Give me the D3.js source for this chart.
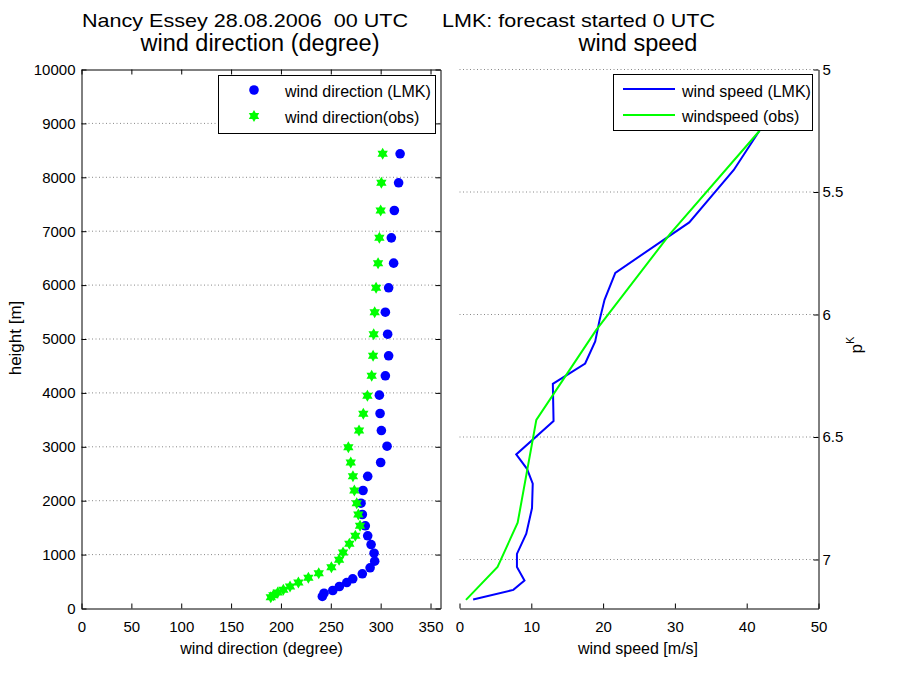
<!DOCTYPE html>
<html><head><meta charset="utf-8">
<script src="https://cdn.jsdelivr.net/npm/d3@7"></script>
<style>
body{margin:0;background:#fff}
svg text{font-family:"Liberation Sans",Arial,Helvetica,sans-serif}
</style>
</head><body>
<svg id="c" width="900" height="675"></svg>
<script>
// ---- data ----
const dirHeightLMK=[223,284,334,408,482,551,644,755,878,1026,1187,1349,1534,1744,1954,2189,2452,2709,3011,3302,3618,3958,4317,4688,5089,5497,5950,6407,6877,7384,7898,8436];
const dirLMK=[241.5,243.2,252,258.6,266,272,281.6,289.4,294,293.4,290.4,287,284.6,281.6,280.3,282.3,287,300,306.4,300.7,299.4,298.7,304.7,308,307,304.7,308,313,310.7,313.7,318,319.5];
const dirHeightObs=[210,247,297,347,408,482,569,655,767,903,1039,1200,1349,1534,1744,1954,2189,2452,2709,2993,3302,3612,3946,4317,4688,5089,5497,5950,6407,6877,7384,7898,8436];
const dirObs=[189.8,192.4,196.8,202.4,209.1,217.5,227.5,237.9,250.6,258.3,262.3,268.6,274.6,279.3,277.6,276,273.6,272.2,270,267.6,278.3,282.6,286.7,291,292.4,293,294,295.4,297.4,298.7,300,300.7,302];

const speedPkLMK=[7.163,7.124,7.086,7.031,6.977,6.895,6.79,6.69,6.63,6.571,6.435,6.283,6.2,6.11,6.024,5.94,5.83,5.624,5.41,5.24];
const speedLMK=[1.9,7.5,9.05,8.0,8.0,9.3,10.1,10.2,9.4,7.9,13.1,13.0,17.5,18.9,19.5,20.2,21.7,32.0,38.2,42.0];
const speedPkObs=[7.165,7.03,6.85,6.43,6.065,5.672,5.25];
const speedObs=[0.9,5.3,8.1,10.7,19.0,29.3,41.8];

const dirTicks=[0,50,100,150,200,250,300,350];
const heightTicks=[0,1000,2000,3000,4000,5000,6000,7000,8000,9000,10000];
const speedTicks=[0,10,20,30,40,50];
const pkTicks=[5,5.5,6,6.5,7];

const titleLeft="Nancy Essey 28.08.2006  00 UTC";
const titleRight="LMK: forecast started 0 UTC";

// ---- drawing ----
const svg=d3.select("#c");
const BLUE="#0000ff", GREEN="#00ff00";

const xDir=d3.scaleLinear().domain([0,360]).range([81.5,440.5]);
const yH=d3.scaleLinear().domain([0,10000]).range([608.5,69.5]);
const xS=d3.scaleLinear().domain([0,50]).range([459.5,818.5]);
const yP=d3.scaleLinear().domain([5,7.2]).range([69.5,608.5]);
const fmt=d=>String(d);

function styleAxis(g){
  g.attr("font-family",null).attr("font-size",15);
  g.selectAll("path,line").attr("stroke","#000");
  g.selectAll("text").attr("fill","#000");
}

// left grid
svg.append("g").selectAll("line").data(heightTicks.filter(d=>d>0&&d<10000)).join("line")
  .attr("x1",81.5).attr("x2",440.5).attr("y1",d=>yH(d)).attr("y2",d=>yH(d))
  .attr("stroke","#888").attr("stroke-dasharray","1,2.5");
// right grid
svg.append("g").selectAll("line").data(pkTicks).join("line")
  .attr("x1",459.5).attr("x2",818.5).attr("y1",d=>yP(d)).attr("y2",d=>yP(d))
  .attr("stroke","#888").attr("stroke-dasharray","1,2.5");

// left axes (box)
svg.append("g").attr("transform","translate(0,608.5)")
  .call(d3.axisBottom(xDir).tickValues(dirTicks).tickSize(-5).tickSizeOuter(0).tickPadding(13).tickFormat(fmt)).call(styleAxis);
svg.append("g").attr("transform","translate(0,69.5)")
  .call(d3.axisTop(xDir).tickValues(dirTicks).tickSize(-5).tickSizeOuter(0).tickFormat("")).call(styleAxis);
svg.append("g").attr("transform","translate(81.5,0)")
  .call(d3.axisLeft(yH).tickValues(heightTicks).tickSize(-5).tickSizeOuter(0).tickPadding(6).tickFormat(fmt)).call(styleAxis);
svg.append("g").attr("transform","translate(440.5,0)")
  .call(d3.axisRight(yH).tickValues(heightTicks).tickSize(-5).tickSizeOuter(0).tickFormat("")).call(styleAxis);

// right axes
svg.append("g").attr("transform","translate(0,608.5)")
  .call(d3.axisBottom(xS).tickValues(speedTicks).tickSize(-5).tickSizeOuter(0).tickPadding(13).tickFormat(fmt)).call(styleAxis);
svg.append("g").attr("transform","translate(818.5,0)")
  .call(d3.axisRight(yP).tickValues(pkTicks).tickSize(-5).tickSizeOuter(0).tickPadding(4).tickFormat(fmt)).call(styleAxis);

// hexagram symbol
const hexagram={draw(ctx,size){
  const R=Math.sqrt(size), r=R/Math.sqrt(3);
  for(let k=0;k<12;k++){
    const a=-Math.PI/2+k*Math.PI/6, rr=(k%2)?r:R;
    const x=rr*Math.cos(a), y=rr*Math.sin(a);
    if(k) ctx.lineTo(x,y); else ctx.moveTo(x,y);
  }
  ctx.closePath();
}};
const hexPath=d3.symbol().type(hexagram).size(36)();

// left scatter
svg.append("g").selectAll("circle").data(dirLMK).join("circle")
  .attr("cx",d=>xDir(d)).attr("cy",(d,i)=>yH(dirHeightLMK[i])).attr("r",4.8).attr("fill",BLUE);
svg.append("g").selectAll("path").data(dirObs).join("path")
  .attr("d",hexPath).attr("transform",(d,i)=>`translate(${xDir(d)},${yH(dirHeightObs[i])})`).attr("fill",GREEN);

// right lines
const line=d3.line();
svg.append("path").datum(speedLMK.map((v,i)=>[xS(v),yP(speedPkLMK[i])]))
  .attr("d",line).attr("fill","none").attr("stroke",BLUE).attr("stroke-width",2);
svg.append("path").datum(speedObs.map((v,i)=>[xS(v),yP(speedPkObs[i])]))
  .attr("d",line).attr("fill","none").attr("stroke",GREEN).attr("stroke-width",2);

// legends
const lg1=svg.append("g");
lg1.append("rect").attr("x",218.5).attr("y",75.5).attr("width",217).attr("height",58).attr("fill","#fff").attr("stroke","#000");
lg1.append("circle").attr("cx",254).attr("cy",90).attr("r",4.8).attr("fill",BLUE);
lg1.append("path").attr("d",hexPath).attr("transform","translate(254,116)").attr("fill",GREEN);
lg1.append("text").attr("x",285).attr("y",97).attr("font-size",16).text("wind direction (LMK)");
lg1.append("text").attr("x",285).attr("y",123).attr("font-size",16).text("wind direction(obs)");

const lg2=svg.append("g");
lg2.append("rect").attr("x",613.5).attr("y",74.5).attr("width",199).attr("height",56).attr("fill","#fff").attr("stroke","#000");
lg2.append("line").attr("x1",623).attr("x2",675).attr("y1",89).attr("y2",89).attr("stroke",BLUE).attr("stroke-width",2);
lg2.append("line").attr("x1",623).attr("x2",675).attr("y1",115).attr("y2",115).attr("stroke",GREEN).attr("stroke-width",2);
lg2.append("text").attr("x",682).attr("y",97).attr("font-size",16).text("wind speed (LMK)");
lg2.append("text").attr("x",682).attr("y",122).attr("font-size",16).text("windspeed (obs)");

// titles
svg.append("text").attr("x",82).attr("y",27).attr("font-size",19)
  .attr("textLength",326).attr("lengthAdjust","spacingAndGlyphs").style("white-space","pre").text(titleLeft);
svg.append("text").attr("x",442).attr("y",27).attr("font-size",19)
  .attr("textLength",273).attr("lengthAdjust","spacingAndGlyphs").text(titleRight);
svg.append("text").attr("x",260).attr("y",51).attr("font-size",23.5).attr("text-anchor","middle").text("wind direction (degree)");
svg.append("text").attr("x",638).attr("y",51).attr("font-size",23.5).attr("text-anchor","middle").text("wind speed");

// axis labels
svg.append("text").attr("x",261.5).attr("y",654).attr("font-size",16).attr("text-anchor","middle").text("wind direction (degree)");
svg.append("text").attr("x",638).attr("y",654).attr("font-size",16).attr("text-anchor","middle").text("wind speed [m/s]");
svg.append("text").attr("transform","translate(21,338) rotate(-90)").attr("font-size",17).attr("text-anchor","middle").text("height [m]");
const pk=svg.append("text").attr("transform","translate(862,345) rotate(-90)").attr("font-size",17).attr("text-anchor","middle");
pk.append("tspan").text("p");
pk.append("tspan").attr("font-size",11).attr("dy",-8).text("K");
</script>
</body></html>
